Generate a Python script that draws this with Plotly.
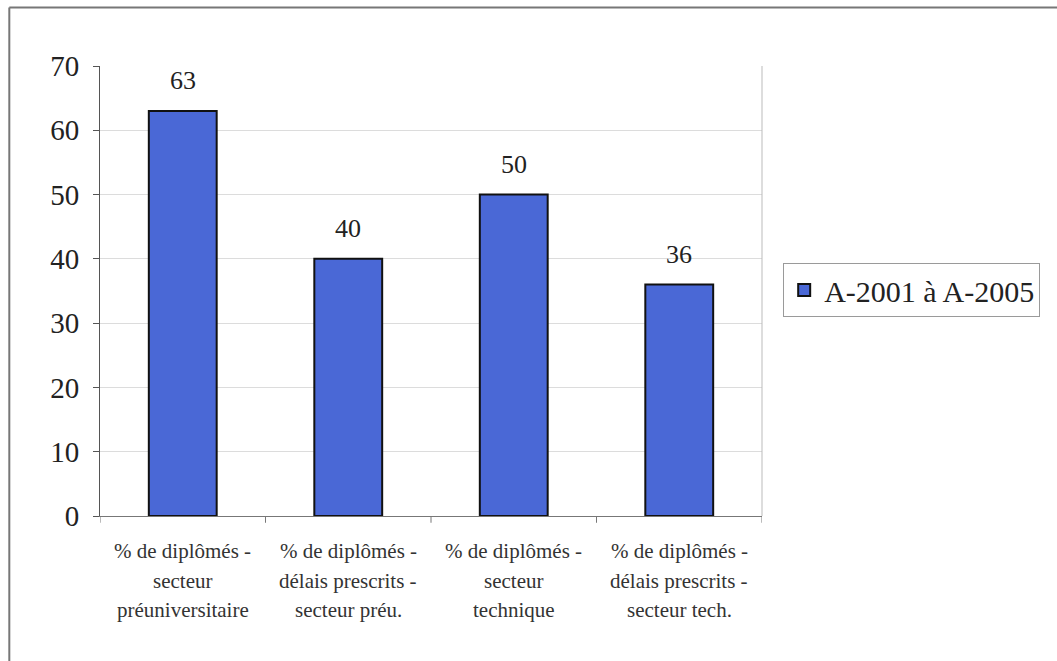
import plotly.graph_objects as go

categories = [
    "% de diplômés -<br>secteur<br>préuniversitaire",
    "% de diplômés -<br>délais prescrits -<br>secteur préu.",
    "% de diplômés -<br>secteur<br>technique",
    "% de diplômés -<br>délais prescrits -<br>secteur tech.",
]
values = [63, 40, 50, 36]
series_name = "A-2001 à A-2005"
y_ticks = [0, 10, 20, 30, 40, 50, 60, 70]

SERIF = "Liberation Serif, Times New Roman, serif"

fig = go.Figure()
fig.add_trace(go.Bar(
    x=list(range(len(categories))),
    y=values,
    name=series_name,
    width=0.41,
    marker=dict(color="#4a68d6", line=dict(color="#111111", width=2)),
    showlegend=True,
))

# Value labels above each bar
for i, v in enumerate(values):
    fig.add_annotation(x=i, y=v, xref="x", yref="y", text=str(v),
                       showarrow=False, yanchor="bottom", yshift=14,
                       font=dict(family=SERIF, size=26, color="#222222"))

# Multi-line category labels, one annotation per line for wider spacing
for i, cat in enumerate(categories):
    for j, line in enumerate(cat.split("<br>")):
        fig.add_annotation(x=i, y=0, xref="x", yref="paper", text=line,
                           showarrow=False, yanchor="middle",
                           yshift=-(35 + 29.5 * j),
                           font=dict(family=SERIF, size=21, color="#333333"))

fig.update_layout(
    width=1057,
    height=661,
    margin=dict(l=100, r=295, t=66, b=145),
    paper_bgcolor="white",
    plot_bgcolor="white",
    font=dict(family=SERIF, color="#222222"),
    showlegend=True,
    legend=dict(
        x=1.032, y=0.502, xanchor="left", yanchor="middle",
        bordercolor="#9a9a9a", borderwidth=1,
        font=dict(family=SERIF, size=30, color="#222222"),
        itemwidth=30,
    ),
    xaxis=dict(
        range=[-0.5, len(categories) - 0.5],
        showgrid=False,
        showline=True, linecolor="#777777", linewidth=1,
        showticklabels=False, ticks="",
        zeroline=False,
    ),
    yaxis=dict(
        range=[0, 70],
        tickvals=y_ticks,
        showgrid=True, gridcolor="#dcdcdc", gridwidth=1,
        showline=True, linecolor="#555555", linewidth=1,
        ticks="outside", ticklen=6, tickcolor="#555555",
        tickfont=dict(family=SERIF, size=29, color="#222222"),
        ticklabelstandoff=8,
        zeroline=False,
    ),
)

# Category separator ticks below the x axis
for i in range(len(categories) + 1):
    fig.add_shape(type="line", xref="x", yref="paper",
                  x0=i - 0.5, x1=i - 0.5, y0=0, y1=-0.015,
                  line=dict(color="#777777", width=1))

# Right edge of the plot area
fig.add_shape(type="line", xref="paper", yref="paper",
              x0=1, x1=1, y0=0, y1=1,
              line=dict(color="#bbbbbb", width=1))

# Outer frame: top and left edges
fig.add_shape(type="line", xref="paper", yref="paper",
              x0=-0.137, x1=1.45, y0=1.13, y1=1.13,
              line=dict(color="#777777", width=2))
fig.add_shape(type="line", xref="paper", yref="paper",
              x0=-0.137, x1=-0.137, y0=1.13, y1=-0.4,
              line=dict(color="#777777", width=2))

fig.write_html("out.html")
